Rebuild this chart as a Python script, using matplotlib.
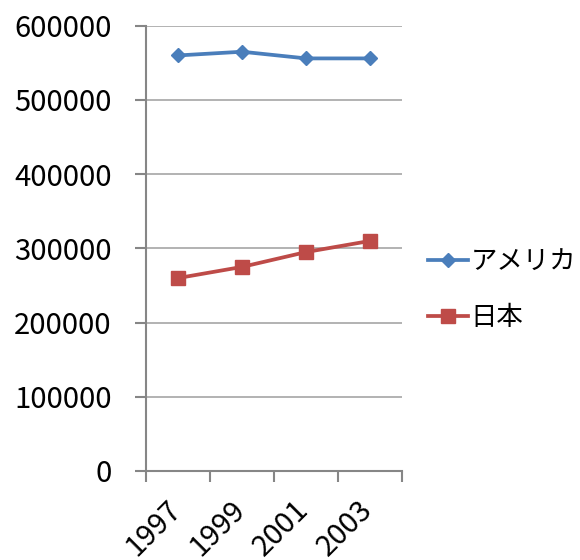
import numpy as np
import matplotlib
matplotlib.use("Agg")
import matplotlib.pyplot as plt
from matplotlib.transforms import ScaledTranslation

plt.rcParams['font.family'] = ['Noto Sans CJK JP', 'DejaVu Sans']

years = ['1997', '1999', '2001', '2003']
america = [560000, 565000, 556000, 556000]
japan = [260000, 275000, 295000, 310000]
series_names = ['アメリカ', '日本']

blue = '#4A7EBB'
red = '#BE4B48'
grid_gray = '#A6A6A6'
axis_gray = '#868686'

fig = plt.figure(figsize=(5.8, 5.6), dpi=100)
ax = fig.add_axes([0.252, 0.159, 0.441, 0.795])

x = np.arange(len(years))
ax.plot(x, america, color=blue, lw=2.7, marker='D', ms=7.5, label=series_names[0])
ax.plot(x, japan, color=red, lw=2.7, marker='s', ms=9.5, label=series_names[1])

ax.set_xlim(-0.5, len(years) - 0.5)
ax.set_ylim(0, 600000)
ax.set_yticks(np.arange(0, 600001, 100000))
ax.yaxis.grid(True, color=grid_gray, lw=1.2)
ax.set_axisbelow(True)

for side in ['top', 'right']:
    ax.spines[side].set_visible(False)
for side in ['left', 'bottom']:
    ax.spines[side].set_color(axis_gray)
    ax.spines[side].set_linewidth(1.5)

# category labels sit between boundary ticks, like an Excel category axis
ax.set_xticks(x)
ax.set_xticklabels(years, rotation=45, ha='right', va='top', rotation_mode='anchor')
ax.set_xticks(np.arange(-0.5, len(years), 1), minor=True)
ax.tick_params(axis='x', which='major', length=0, pad=17, labelsize=21)
ax.tick_params(axis='x', which='minor', length=8, width=1.5, color=axis_gray)
ax.tick_params(axis='y', length=8, width=1.5, color=axis_gray, pad=17, labelsize=21)
ax.yaxis.set_major_formatter(matplotlib.ticker.FormatStrFormatter('%d'))

shift = ScaledTranslation(-12 / 100, 0, fig.dpi_scale_trans)
for lbl in ax.get_xticklabels():
    lbl.set_transform(lbl.get_transform() + shift)

leg = fig.legend(loc='center left', bbox_to_anchor=(0.738, 0.483), frameon=False,
                 fontsize=19, handlelength=1.5, handletextpad=0.1, labelspacing=1.1,
                 borderaxespad=0, borderpad=0)

fig.savefig('out.png', dpi=100)
